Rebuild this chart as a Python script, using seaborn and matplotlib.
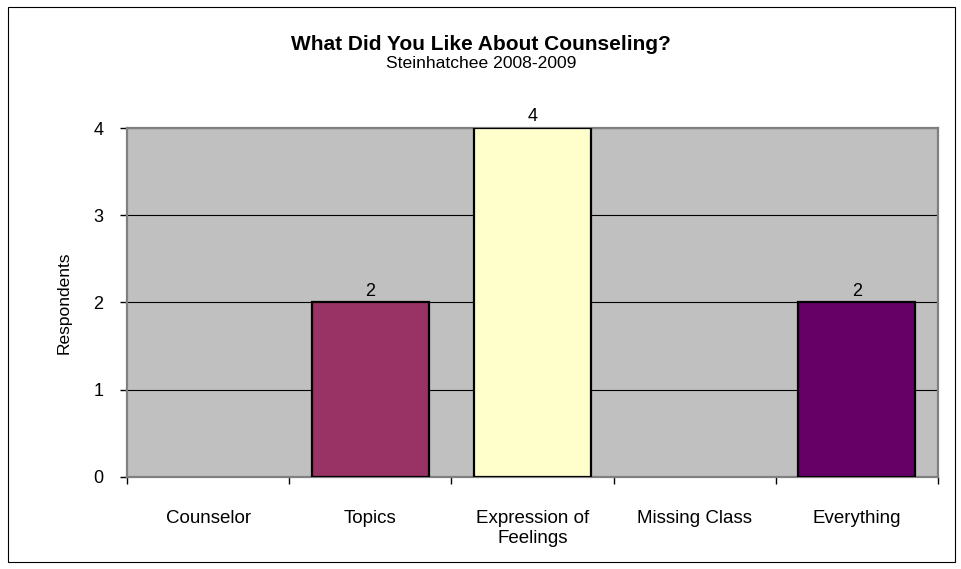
import numpy as np
import pandas as pd
import matplotlib
matplotlib.use("Agg")
import matplotlib.pyplot as plt
import seaborn as sns
from matplotlib.patches import Rectangle
from matplotlib.ticker import FixedLocator

categories = ["Counselor", "Topics", "Expression of\nFeelings", "Missing Class", "Everything"]
respondents = [0, 2, 4, 0, 2]
bar_colors = ["#9999FF", "#993366", "#FFFFCC", "#CCFFFF", "#660066"]
y_ticks = [0, 1, 2, 3, 4]

sns.set_theme(style="white")
plt.rcParams["font.family"] = ["Liberation Sans", "DejaVu Sans"]
plt.rcParams["text.color"] = "black"
plt.rcParams["xtick.color"] = "black"
plt.rcParams["ytick.color"] = "black"
plt.rcParams["axes.labelcolor"] = "black"

df = pd.DataFrame({"category": categories, "respondents": respondents})

fig = plt.figure(figsize=(9.62, 5.69), dpi=100)
ax = fig.add_axes([0.132, 0.162, 0.843, 0.613])

sns.barplot(data=df, x="category", y="respondents", hue="category",
            palette=dict(zip(categories, bar_colors)), width=0.72, saturation=1,
            edgecolor="black", linewidth=1.6, legend=False, ax=ax, zorder=3)

# hide the outline of empty bars
for p in ax.patches:
    if p.get_height() == 0:
        p.set_linewidth(0)

ax.set_facecolor("#C0C0C0")
ax.set_ylim(0, 4)
ax.set_xlim(-0.5, len(categories) - 0.5)
ax.set_yticks(y_ticks)
ax.yaxis.grid(True, color="black", linewidth=0.8, zorder=0)
ax.set_axisbelow(True)

for side in ["top", "right", "left", "bottom"]:
    ax.spines[side].set_color("#808080")
    ax.spines[side].set_linewidth(1.6)

# ticks at category boundaries on x
ax.xaxis.set_minor_locator(FixedLocator(np.arange(-0.5, len(categories), 1.0)))
ax.tick_params(axis="x", which="major", length=0, pad=24, labelsize=13.5)
ax.tick_params(axis="x", which="minor", length=5, width=1, color="black", direction="out", bottom=True)
ax.tick_params(axis="y", length=5, width=1, color="black", direction="out", left=True, labelsize=13, pad=12)
for lbl in ax.get_xticklabels():
    lbl.set_linespacing(1.25)

ax.set_xlabel("")
ax.set_ylabel("Respondents", fontsize=12.5)
ax.yaxis.set_label_coords(-0.068, 0.5)

for container in ax.containers:
    labels = [f"{int(v)}" if v > 0 else "" for v in container.datavalues]
    ax.bar_label(container, labels=labels, padding=2, fontsize=13)

fig.text(0.5, 1 - 50 / 569, "What Did You Like About Counseling?", ha="center", va="baseline",
         fontsize=15, fontweight="bold")
fig.text(0.5, 1 - 68 / 569, "Steinhatchee 2008-2009", ha="center", va="baseline", fontsize=12.6)

fig.patches.append(Rectangle((8 / 962, 7 / 569), 947 / 962, 555 / 569,
                             transform=fig.transFigure, fill=False,
                             edgecolor="black", linewidth=0.8))

fig.savefig("out.png", dpi=100, facecolor="white")
